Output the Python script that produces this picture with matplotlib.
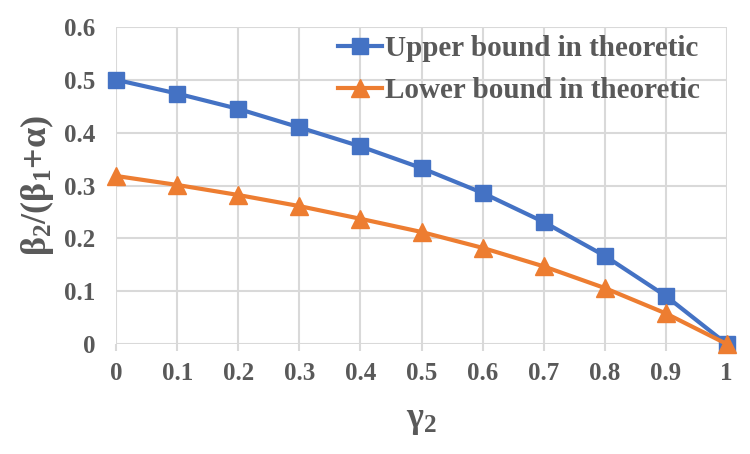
import matplotlib
matplotlib.use('Agg')
import matplotlib.pyplot as plt

gamma2 = [0, 0.1, 0.2, 0.3, 0.4, 0.5, 0.6, 0.7, 0.8, 0.9, 1]
upper = [0.5, 0.474, 0.445, 0.41, 0.374, 0.333, 0.286, 0.231, 0.167, 0.091, 0.0]
lower = [0.318, 0.301, 0.282, 0.261, 0.237, 0.212, 0.182, 0.147, 0.106, 0.058, 0.0]
x_labels = ['0', '0.1', '0.2', '0.3', '0.4', '0.5', '0.6', '0.7', '0.8', '0.9', '1']
y_ticks = [0, 0.1, 0.2, 0.3, 0.4, 0.5, 0.6]
y_labels = ['0', '0.1', '0.2', '0.3', '0.4', '0.5', '0.6']

serif = ['Liberation Serif', 'DejaVu Serif']
gray = '#595959'

plt.rcParams['mathtext.fontset'] = 'custom'
plt.rcParams['mathtext.rm'] = 'Liberation Serif:bold'
plt.rcParams['mathtext.it'] = 'Liberation Serif:bold'
plt.rcParams['mathtext.bf'] = 'Liberation Serif:bold'
plt.rcParams['mathtext.default'] = 'rm'

fig = plt.figure(figsize=(7.5, 4.54), dpi=100)
ax = fig.add_axes([0.155, 0.2423, 0.814, 0.6982])

ax.plot(gamma2, upper, color='#4472C4', lw=3, marker='s', ms=12,
        label='Upper bound in theoretic', clip_on=False, zorder=3)
ax.plot(gamma2, lower, color='#ED7D31', lw=3, marker='^', ms=13,
        label='Lower bound in theoretic', clip_on=False, zorder=4)

ax.set_xlim(0, 1)
ax.set_ylim(0, 0.6)
ax.set_xticks(gamma2)
ax.set_xticklabels(x_labels)
ax.set_yticks(y_ticks)
ax.set_yticklabels(y_labels)
ax.grid(True, color='#D9D9D9', lw=1.5)
ax.set_axisbelow(True)
for s in ax.spines.values():
    s.set_visible(False)

ax.tick_params(axis='x', length=5, width=1.5, color='#D9D9D9', pad=8)
ax.tick_params(axis='y', length=0, pad=15)
for lab in ax.get_xticklabels() + ax.get_yticklabels():
    lab.set_family(serif)
    lab.set_fontweight('bold')
    lab.set_fontsize(18)
    lab.set_color(gray)

ax.set_ylabel(r'$\beta_2/(\beta_1{+}\alpha)$', family=serif, fontweight='bold',
              fontsize=26, color=gray, labelpad=6)
ax.set_xlabel(r'$\gamma_2$', family=serif, fontweight='bold', fontsize=26,
              color=gray, labelpad=14)

leg = ax.legend(loc='upper left', bbox_to_anchor=(0.344, 1.011), frameon=False,
                prop={'family': serif, 'weight': 'bold', 'size': 21},
                handlelength=1.5, handletextpad=0.1, labelspacing=0.5,
                borderaxespad=0)
for t in leg.get_texts():
    t.set_color(gray)

fig.savefig('out.png', dpi=100)
